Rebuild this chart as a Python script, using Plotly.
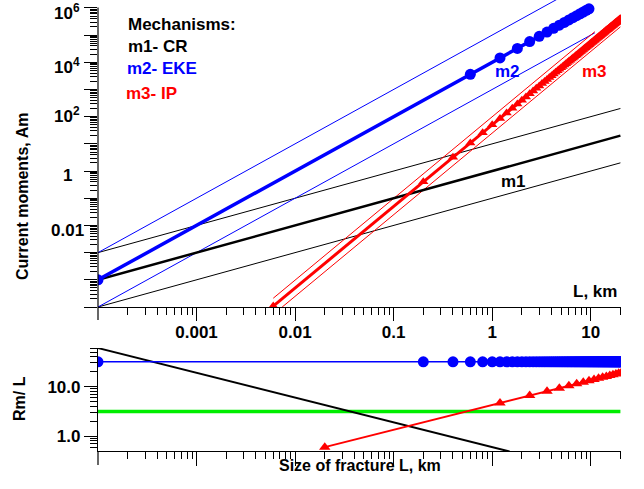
import plotly.graph_objects as go

# ---------------- data ----------------
# Top panel: current moments (Am) vs fracture size L (km)
m1_L = [1e-4, 20]
m1_M = [1e-4, 20]
m1_hi_M = [1e-3, 200]
m1_lo_M = [1e-5, 2]

m2_L = [1e-4, 0.6, 1.2, 1.8, 2.4, 3.0, 3.6, 4.2, 4.8, 5.4, 6.0, 6.6, 7.2, 7.8, 8.4, 9.0, 9.6]
m2_M = [1e-4, 3600, 14400, 32400, 57600, 90000, 129600, 176400, 230400, 291600,
        360000, 435600, 518400, 608400, 705600, 810000, 921600]
m2_hi_L = [1e-4, 20]
m2_hi_M = [1e-3, 4e7]
m2_lo_L = [1e-4, 11]
m2_lo_M = [1e-5, 1.21e5]

L_fine = [0.2, 0.4, 0.6, 0.8, 1.0, 1.2, 1.4, 1.6, 1.8, 2.0,
          2.2, 2.4, 2.6, 2.8, 3.0, 3.2, 3.4, 3.6, 3.8, 4.0,
          4.2, 4.4, 4.6, 4.8, 5.0, 5.2, 5.4, 5.6, 5.8, 6.0,
          6.2, 6.4, 6.6, 6.8, 7.0, 7.2, 7.4, 7.6, 7.8, 8.0,
          8.2, 8.4, 8.6, 8.8, 9.0, 9.2, 9.4, 9.6, 9.8, 10.0,
          10.2, 10.4, 10.6, 10.8, 11.0, 11.2, 11.4, 11.6, 11.8, 12.0,
          12.2, 12.4, 12.6, 12.8, 13.0, 13.2, 13.4, 13.6, 13.8, 14.0,
          14.2, 14.4, 14.6, 14.8, 15.0, 15.2, 15.4, 15.6, 15.8, 16.0,
          16.2, 16.4, 16.6, 16.8, 17.0, 17.2, 17.4, 17.6, 17.8, 18.0,
          18.2, 18.4, 18.6, 18.8, 19.0, 19.2, 19.4, 19.6, 19.8, 20.0]

m3_L = [0.006] + L_fine
m3_M = [1.08e-5,
        0.4, 3.2, 10.8, 25.6, 50, 86.4, 137, 205, 292, 400,
        532, 691, 879, 1100, 1350, 1640, 1970, 2330, 2740, 3200,
        3700, 4260, 4870, 5530, 6250, 7030, 7870, 8780, 9760, 10800,
        11900, 13100, 14400, 15700, 17200, 18700, 20300, 21900, 23700, 25600,
        27600, 29600, 31800, 34100, 36500, 38900, 41500, 44200, 47100, 50000,
        53100, 56200, 59600, 63000, 66600, 70200, 74100, 78000, 82200, 86400,
        90800, 95300, 100000, 105000, 110000, 115000, 120000, 126000, 131000, 137000,
        143000, 149000, 156000, 162000, 169000, 176000, 183000, 190000, 197000, 205000,
        213000, 221000, 229000, 237000, 246000, 254000, 263000, 273000, 282000, 292000,
        301000, 311000, 322000, 332000, 343000, 354000, 365000, 376000, 388000, 400000]
m3_hi_L = [0.006, 11]
m3_hi_M = [2.1e-5, 1.33e5]
m3_lo_L = [0.0074, 20]
m3_lo_M = [1e-5, 2e5]

# Bottom panel: Rm/L vs L
b_m2_L = [1e-4] + L_fine
b_m2_R = [31.6,
          31.6, 31.6, 31.6, 31.6, 31.6, 31.6, 31.6, 31.6, 31.6, 31.6,
          31.6, 31.6, 31.6, 31.6, 31.6, 31.6, 31.6, 31.6, 31.6, 31.6,
          31.6, 31.6, 31.6, 31.6, 31.6, 31.6, 31.6, 31.6, 31.6, 31.6,
          31.6, 31.6, 31.6, 31.6, 31.6, 31.6, 31.6, 31.6, 31.6, 31.6,
          31.6, 31.6, 31.6, 31.6, 31.6, 31.6, 31.6, 31.6, 31.6, 31.6,
          31.6, 31.6, 31.6, 31.6, 31.6, 31.6, 31.6, 31.6, 31.6, 31.6,
          31.6, 31.6, 31.6, 31.6, 31.6, 31.6, 31.6, 31.6, 31.6, 31.6,
          31.6, 31.6, 31.6, 31.6, 31.6, 31.6, 31.6, 31.6, 31.6, 31.6,
          31.6, 31.6, 31.6, 31.6, 31.6, 31.6, 31.6, 31.6, 31.6, 31.6,
          31.6, 31.6, 31.6, 31.6, 31.6, 31.6, 31.6, 31.6, 31.6, 31.6]
b_m1_L = [1e-4, 1.5]
b_m1_R = [60, 0.49]
b_m3_L = [0.02, 1.2, 2.4, 3.6, 4.8, 6.0, 7.2, 8.4, 9.6, 10.8, 12.0,
          13.2, 14.4, 15.6, 16.8, 18.0, 19.2, 20.4]
b_m3_R = [0.6, 4.66, 6.58, 8.06, 9.31, 10.4, 11.4, 12.3, 13.2, 14.0, 14.7,
          15.4, 16.1, 16.8, 17.4, 18.0, 18.6, 19.2]
b_ref_L = [1e-4, 20]
b_ref_R = [3.16, 3.16]

top_x_ticks = [1e-3, 1e-2, 1e-1, 1, 10]
top_x_text = ["0.001", "0.01", "0.1", "1", "10"]
top_y_ticks = [1e-5, 1e-4, 1e-3, 1e-2, 1e-1, 1, 10, 100, 1e3, 1e4, 1e5, 1e6]
top_y_labels = ["10<sup>6</sup>", "10<sup>4</sup>", "10<sup>2</sup>", "1", "0.01"]
bot_y_ticks = [1, 10]
bot_y_text = ["1.0", "10.0"]

# ---------------- figure ----------------
BLUE = "#0000ff"
RED = "#ff0000"
BLACK = "#000000"
GREEN = "#00ee00"
FONT = "Liberation Sans, Arial, sans-serif"

fig = go.Figure()

def line(x, y, color, width, xa="x", ya="y"):
    fig.add_trace(go.Scatter(x=x, y=y, mode="lines", line=dict(color=color, width=width),
                             xaxis=xa, yaxis=ya, showlegend=False, hoverinfo="skip"))

# top thin envelopes
line(m1_L, m1_hi_M, BLACK, 1)
line(m1_L, m1_lo_M, BLACK, 1)
line(m2_hi_L, m2_hi_M, BLUE, 1)
line(m2_lo_L, m2_lo_M, BLUE, 1)
line(m3_hi_L, m3_hi_M, RED, 1)
line(m3_lo_L, m3_lo_M, RED, 1)
# top main curves
line(m1_L, m1_M, BLACK, 2.5)
fig.add_trace(go.Scatter(x=m2_L, y=m2_M, mode="lines+markers",
                         line=dict(color=BLUE, width=3.5),
                         marker=dict(symbol="circle", size=11, color=BLUE),
                         showlegend=False, hoverinfo="skip"))
fig.add_trace(go.Scatter(x=m3_L, y=m3_M, mode="lines+markers",
                         line=dict(color=RED, width=3),
                         marker=dict(symbol="triangle-up", size=9, color=RED),
                         showlegend=False, hoverinfo="skip"))

# bottom panel
line(b_ref_L, b_ref_R, GREEN, 3.5, "x2", "y2")
line(b_m1_L, b_m1_R, BLACK, 2, "x2", "y2")
fig.add_trace(go.Scatter(x=b_m2_L, y=b_m2_R, mode="lines+markers", xaxis="x2", yaxis="y2",
                         line=dict(color=BLUE, width=1.5),
                         marker=dict(symbol="circle", size=11, color=BLUE),
                         showlegend=False, hoverinfo="skip"))
fig.add_trace(go.Scatter(x=b_m3_L, y=b_m3_R, mode="lines+markers", xaxis="x2", yaxis="y2",
                         line=dict(color=RED, width=2),
                         marker=dict(symbol="triangle-up", size=10, color=RED),
                         showlegend=False, hoverinfo="skip"))

def minor_vals(lo, hi):
    v = []
    for e in range(lo, hi + 1):
        for m in range(2, 10):
            v.append(m * 10.0 ** e)
    return v

tickfont = dict(family=FONT, size=17, color="black", weight="bold")
XR = [-4, 1.307]
TOP_DOM = [0.3193, 1.0]
BOT_DOM = [0.0, 0.2284]

def xaxis_cfg(**extra):
    d = dict(type="log", range=XR, showgrid=False, zeroline=False,
             showline=True, linecolor="black", linewidth=1.2,
             ticks="outside", ticklen=13, tickcolor="black", tickwidth=1.2,
             tickmode="array", tickvals=top_x_ticks,
             minor=dict(tickmode="array", tickvals=minor_vals(-4, 1), ticks="outside",
                        ticklen=7, tickcolor="black", tickwidth=1, showgrid=False))
    d.update(extra)
    return d

fig.update_layout(
    width=644, height=489,
    margin=dict(l=98, r=23, t=0, b=38),
    paper_bgcolor="white", plot_bgcolor="white",
    font=dict(family=FONT, color="black"),
    xaxis=xaxis_cfg(domain=[0, 1], anchor="y", ticklabelstandoff=-3,
                    ticktext=[f"<b>{t}</b>" for t in top_x_text], tickfont=tickfont),
    yaxis=dict(type="log", range=[-5, 6.29], domain=TOP_DOM, anchor="x",
               showgrid=False, zeroline=False, showline=False, showticklabels=False,
               ticks="outside", ticklen=13, tickcolor="black", tickwidth=1.2,
               tickmode="array", tickvals=top_y_ticks,
               minor=dict(tickmode="array", tickvals=minor_vals(-5, 5), ticks="outside",
                          ticklen=7, tickcolor="black", tickwidth=1, showgrid=False)),
    xaxis2=xaxis_cfg(domain=[0, 1], anchor="y2", showticklabels=False, ticklen=14),
    yaxis2=dict(type="log", range=[-0.3, 1.78], domain=BOT_DOM, anchor="x2",
                showgrid=False, zeroline=False, showline=True, linecolor="black", linewidth=1.2,
                ticks="outside", ticklen=13, tickcolor="black", tickwidth=1.2,
                tickmode="array", tickvals=bot_y_ticks,
                ticktext=[f"<b>{t}</b>" for t in bot_y_text], tickfont=tickfont,
                minor=dict(tickmode="array", tickvals=minor_vals(-1, 1), ticks="outside",
                           ticklen=7, tickcolor="black", tickwidth=1, showgrid=False)),
    showlegend=False,
)

W, H = 523.0, 451.0

# top y axis line only from 1e6 downward
fig.add_shape(type="line", xref="paper", yref="paper", x0=0, x1=0,
              y0=TOP_DOM[0], y1=(H - 7.4) / H, line=dict(color="black", width=1.2))
# major ticks at L = 1e-4 on both x axes (below the axis line)
for y_line, tl in [(307, 13), (451, 14)]:
    fig.add_shape(type="line", xref="paper", yref="paper", x0=0, x1=0,
                  y0=(H - y_line) / H, y1=(H - y_line - tl) / H,
                  line=dict(color="black", width=1.2))

def px(x, y):
    return (x - 98) / W, (H - y) / H

def txt(s, x, y, color="black", size=17, xanchor="left", angle=0):
    X, Y = px(x, y)
    fig.add_annotation(text=f"<b>{s}</b>", x=X, y=Y, xref="paper", yref="paper",
                       showarrow=False, xanchor=xanchor, yanchor="middle", textangle=angle,
                       font=dict(family=FONT, size=size, color=color))

# top y tick labels (centred, as in the reference)
for lab, ypix in zip(top_y_labels, [11.5, 65.5, 115, 175, 230]):
    txt(lab, 67, ypix, xanchor="center")

txt("Mechanisms:", 126, 25)
txt("m1- CR", 126, 46)
txt("m2- EKE", 125, 69, BLUE)
txt("m3- IP", 124, 94, RED)
txt("m2", 507, 71, BLUE, xanchor="center")
txt("m3", 594, 71, RED, xanchor="center")
txt("m1", 513, 181, xanchor="center")
txt("L, km", 619, 291, xanchor="right")
txt("Current moments, Am", 23, 197, size=16, xanchor="center", angle=-90)
txt("Rm/ L", 19, 399, size=16, xanchor="center", angle=-90)
txt("Size of fracture L, km", 360, 465, size=16, xanchor="center")

fig.write_html("out.html")
